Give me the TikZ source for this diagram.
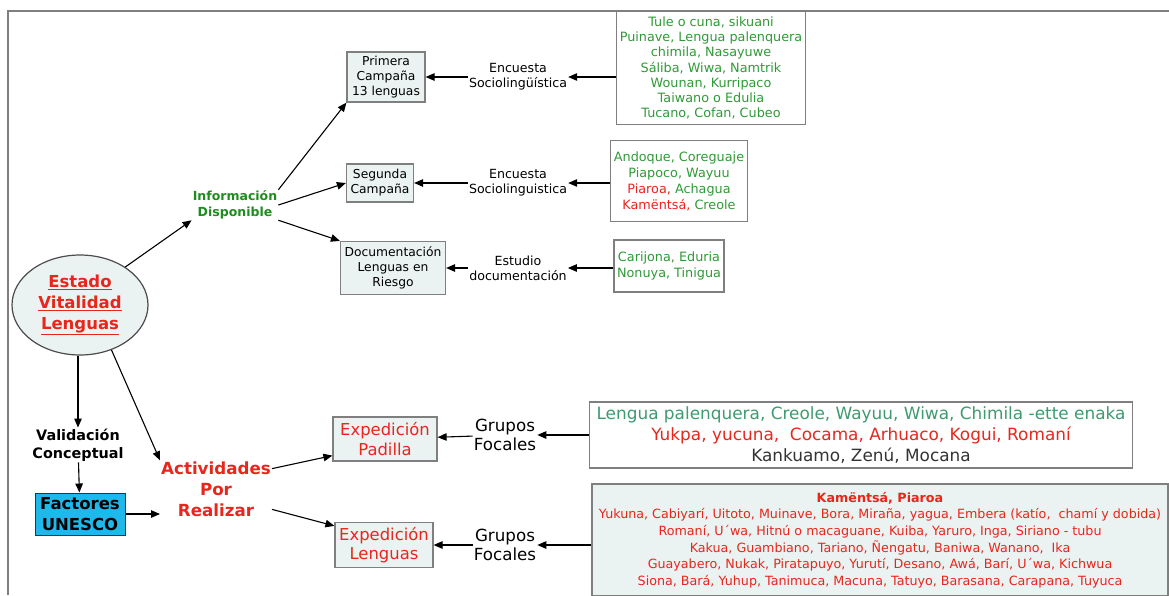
\documentclass[tikz,border=0pt]{standalone}
\usepackage{fontspec}
\setmainfont{DejaVu Sans}
\usetikzlibrary{arrows.meta,shapes.geometric,positioning}
\definecolor{boxfill}{HTML}{EBF2F2}
\definecolor{listgreen}{HTML}{2E9A36}
\definecolor{infogreen}{HTML}{1E8C1E}
\definecolor{tealgreen}{HTML}{3E9A70}
\definecolor{vred}{HTML}{E8261C}
\definecolor{unesco}{HTML}{1EB8EA}
\definecolor{framegray}{HTML}{7F7F7F}
\newcommand\listfont{\fontsize{12.8}{15.2}\selectfont}
\newcommand\boxfont{\fontsize{12.3}{15}\selectfont}
\newcommand\midfont{\fontsize{16.4}{19.5}\selectfont}

\begin{document}
\begin{tikzpicture}[x=1pt,y=-1pt,
    box/.style={draw=framegray,fill=boxfill,line width=1.2pt,align=center,inner sep=1pt},
    list/.style={draw=framegray,line width=1.2pt,align=center,inner sep=1pt},
    lbl/.style={align=center,inner sep=1pt},
    arr/.style={line width=1.1pt,-{Triangle[length=9pt,width=7.5pt]}}]
        \useasboundingbox (0,0) rectangle (1169,595);
        \draw[framegray,line width=1.5pt] (8,595) -- (8,11) -- (1169,11);

        \path
        (80,305) node[ellipse,draw=gray!60!black,fill=boxfill,line width=1.2pt,
          minimum width=136,minimum height=100,inner sep=0pt,align=center,text=vred,
          font=\fontsize{16.5}{21}\selectfont\bfseries](estado)
          {\underline{Estado}\\\underline{Vitalidad}\\\underline{Lenguas}}
        (235,205) node[lbl,text=infogreen,font=\fontsize{12.5}{15.5}\selectfont\bfseries](info)
          {Información\\Disponible}
        (386,77) node[box,minimum width=78,minimum height=50,font=\boxfont](prim)
          {Primera\\Campaña\\13 lenguas}
        (380,183) node[box,minimum width=67,minimum height=38,font=\boxfont](seg)
          {Segunda\\Campaña}
        (393,268) node[box,minimum width=105,minimum height=53,font=\boxfont](docu)
          {Documentación\\Lenguas en\\Riesgo}
        (518,77) node[lbl,font=\fontsize{12.6}{15}\selectfont](enc1) {Encuesta\\Sociolingüística}
        (518,183) node[lbl,font=\fontsize{12.6}{15}\selectfont](enc2) {Encuesta\\Sociolinguistica}
        (518,268) node[lbl,font=\fontsize{12.6}{15}\selectfont](est) {Estudio\\documentación}
        (711,68) node[list,minimum width=189,minimum height=113,text=listgreen,font=\listfont](lst1)
          {Tule o cuna, sikuani\\Puinave, Lengua palenquera\\chimila, Nasayuwe\\Sáliba, Wiwa, Namtrik\\
           Wounan, Kurripaco\\Taiwano o Edulia\\Tucano, Cofan, Cubeo}
        (679,181) node[list,minimum width=137,minimum height=81,text=listgreen,
          font=\fontsize{12.8}{16}\selectfont](lst2)
          {Andoque, Coreguaje\\Piapoco, Wayuu\\\textcolor{vred}{Piaroa,} Achagua\\
           \textcolor{vred}{Kamëntsá,} Creole}
        (669,266) node[list,minimum width=110,minimum height=52,text=listgreen,
          font=\fontsize{12.8}{16}\selectfont](lst3)
          {Carijona, Eduria\\Nonuya, Tinigua}
        (78,445) node[lbl,font=\fontsize{14.4}{18}\selectfont\bfseries](valid)
          {Validación\\Conceptual}
        (80,514) node[draw=black!80,fill=unesco,line width=1pt,minimum width=90,minimum height=42,
          align=center,inner sep=1pt,font=\fontsize{16.5}{20.5}\selectfont\bfseries](unesco)
          {Factores\\UNESCO}
        (216,489) node[lbl,text=vred,font=\fontsize{16.7}{21}\selectfont\bfseries](activ)
          {Actividades\\Por\\Realizar}
        (385,439) node[box,minimum width=104,minimum height=44,text=vred,font=\midfont](padilla)
          {Expedición\\Padilla}
        (384,545) node[box,minimum width=98,minimum height=45,text=vred,font=\midfont](exled)
          {Expedición\\Lenguas}
        (505,435) node[lbl,font=\fontsize{16.7}{19}\selectfont](grup1) {Grupos\\Focales}
        (505,545) node[lbl,font=\fontsize{16.7}{19}\selectfont](grup2) {Grupos\\Focales}
        (861,435) node[list,minimum width=543,minimum height=66,font=\fontsize{16.9}{21}\selectfont](lst4)
          {\textcolor{tealgreen}{Lengua palenquera, Creole, Wayuu, Wiwa, Chimila -ette enaka}\\
           \textcolor{vred}{Yukpa, yucuna,\ \ Cocama, Arhuaco, Kogui, Romaní}\\
           \textcolor{black!80}{Kankuamo, Zenú, Mocana}}
        (880,540) node[box,minimum width=576,minimum height=112,text=vred,font=\fontsize{12.7}{16.6}\selectfont](lst5)
          {\textbf{Kamëntsá, Piaroa}\\
           Yukuna, Cabiyarí, Uitoto, Muinave, Bora, Miraña, yagua, Embera (katío,\ \ chamí y dobida)\\
           Romaní, U´wa, Hitnú o macaguane, Kuiba, Yaruro, Inga, Siriano - tubu\\
           Kakua, Guambiano, Tariano, Ñengatu, Baniwa, Wanano,\ \ Ika\\
           Guayabero, Nukak, Piratapuyo, Yurutí, Desano, Awá, Barí, U´wa, Kichwua\\
           Siona, Bará, Yuhup, Tanimuca, Macuna, Tatuyo, Barasana, Carapana, Tuyuca}
        ;

        \draw[arr] (estado.40) -- (info.south west);
        \draw[arr] (info.north east) -- (prim.south west);
        \draw[arr] (info.east) -- (seg.west);
        \draw[arr] (info.south east) -- (docu.north west);
        \draw[arr] (lst1.west |- enc1) -- (enc1);
        \draw[arr] (enc1) -- (prim);
        \draw[arr] (lst2.west |- enc2) -- (enc2);
        \draw[arr] (enc2) -- (seg);
        \draw[arr] (lst3.west |- est) -- (est);
        \draw[arr] (est) -- (docu);
        \draw[arr] (estado.south -| valid) -- (valid);
        \draw[arr] (estado.-55) -- (activ.north west);
        \draw[arr] (valid) -- (unesco);
        \draw[arr] (unesco) -- (activ.west |- unesco);
        \draw[arr] (activ.20) -- ([yshift=6pt]padilla.south west);
        \draw[arr] (activ.-20) -- ([yshift=-4pt]exled.north west);
        \draw[arr] (lst4.west |- grup1) -- (grup1);
        \draw[arr] (grup1) -- (padilla);
        \draw[arr] (lst5.west |- grup2) -- (grup2);
        \draw[arr] (grup2) -- (exled);
      \end{tikzpicture}
\end{document}
